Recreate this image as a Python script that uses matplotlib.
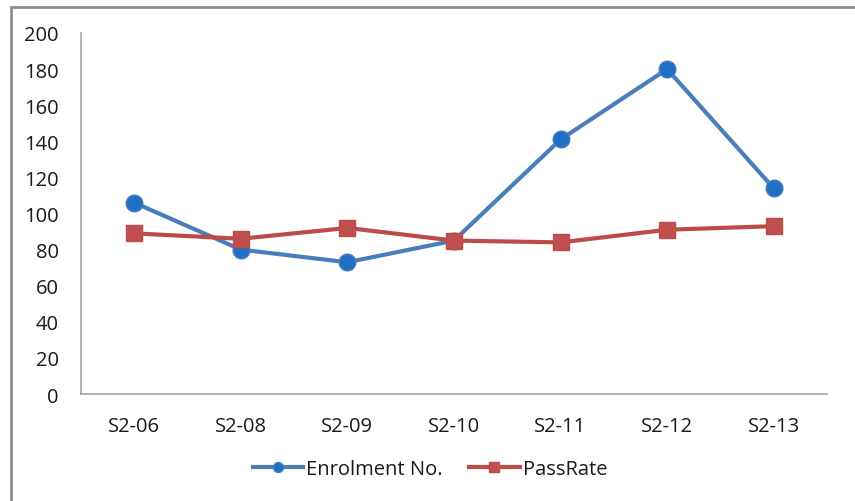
import matplotlib
matplotlib.use("Agg")
import matplotlib.pyplot as plt
from matplotlib.patches import Rectangle

# semester codes and the two series
semesters = ["S2-06", "S2-08", "S2-09", "S2-10", "S2-11", "S2-12", "S2-13"]
enrolment = [106, 80, 73, 85, 141, 180, 114]
pass_rate = [89, 86, 92, 85, 84, 91, 93]

plt.rcParams["font.family"] = ["Open Sans", "DejaVu Sans"]

fig = plt.figure(figsize=(8.55, 5.02), dpi=100)
ax = fig.add_axes([0.0947, 0.2131, 0.8725, 0.7192])

x = range(len(semesters))
ax.plot(x, enrolment, color="#4A7EBB", linewidth=3, marker="o", markersize=12,
        markerfacecolor="#1F6FC5", markeredgecolor="#4A7EBB", label="Enrolment No.")
ax.plot(x, pass_rate, color="#BE4B48", linewidth=3, marker="s", markersize=12,
        markerfacecolor="#C0504D", markeredgecolor="#BE4B48", label="PassRate")

ax.set_xlim(-0.5, len(semesters) - 0.5)
ax.set_ylim(0, 200)
ax.set_yticks(range(0, 201, 20))
ax.set_xticks(list(x))
ax.set_xticklabels(semesters)
ax.tick_params(axis="both", length=0, labelsize=14.5, colors="#1A1A1A")
ax.tick_params(axis="x", pad=16)
ax.tick_params(axis="y", pad=16)

for side in ["top", "right"]:
    ax.spines[side].set_visible(False)
for side in ["left", "bottom"]:
    ax.spines[side].set_color("#A6A6A6")
    ax.spines[side].set_linewidth(1.2)

fig.legend(loc="center", bbox_to_anchor=(0.503, 0.064), ncol=2, frameon=False,
           fontsize=14.5, handlelength=2.5, handletextpad=0.15, columnspacing=1.3,
           markerscale=0.6, borderpad=0, labelcolor="#1A1A1A")

# grey frame around the whole chart
fig.patches.append(Rectangle((11 / 855, -0.1), 1.1, 1 - 8 / 502 + 0.1,
                             transform=fig.transFigure, fill=False,
                             edgecolor="#8C8C8C", linewidth=2))

fig.savefig("out.png", dpi=100)
